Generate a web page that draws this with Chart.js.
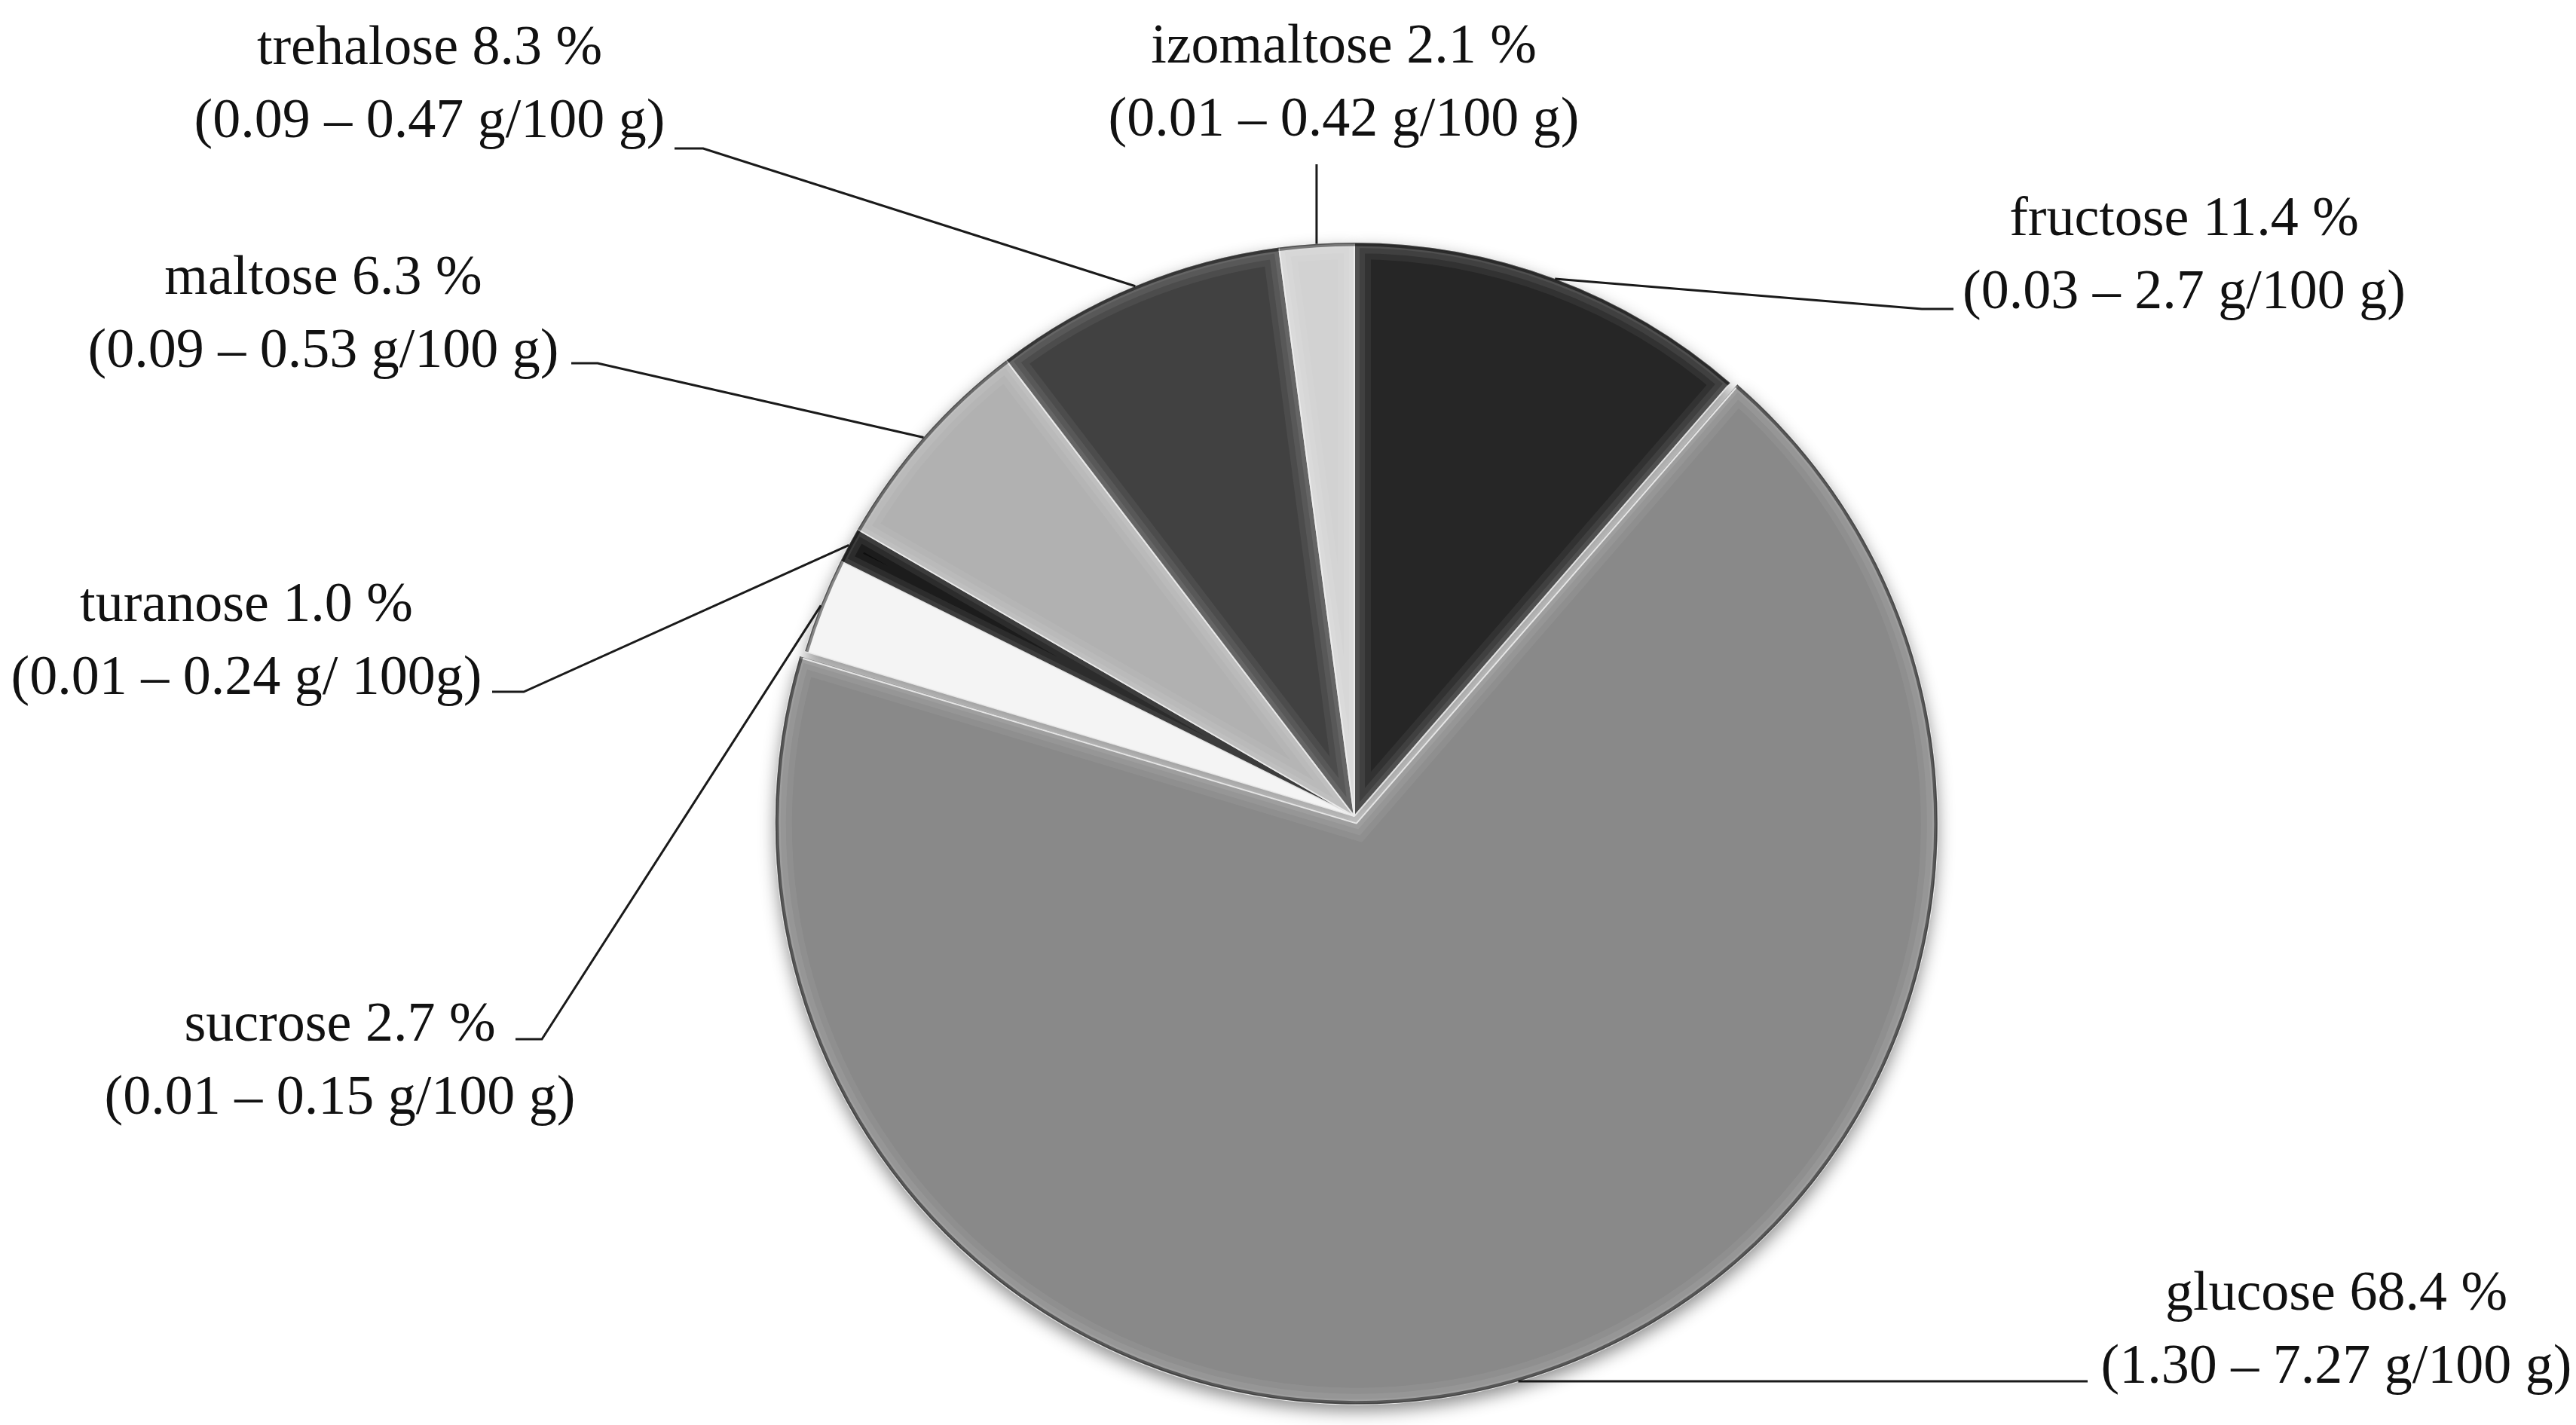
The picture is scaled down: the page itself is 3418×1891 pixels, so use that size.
<!DOCTYPE html>
<html>
<head>
<meta charset="utf-8">
<script src="https://cdn.jsdelivr.net/npm/chart.js@4.4.1/dist/chart.umd.min.js"></script>
<style>
  html, body { margin: 0; padding: 0; background: #ffffff; }
  #wrap { width: 3418px; height: 1891px; position: relative; }
</style>
</head>
<body>
<div id="wrap"><canvas id="c"></canvas></div>
<script>
// ---- data (clockwise from 12 o'clock) ----
const sugars = ['fructose', 'glucose', 'sucrose', 'turanose', 'maltose', 'trehalose', 'izomaltose'];
const shares = [11.4, 68.4, 2.7, 1.0, 6.3, 8.3, 2.1];
const ranges = [
  '(0.03 – 2.7 g/100 g)',
  '(1.30 – 7.27 g/100 g)',
  '(0.01 – 0.15 g/100 g)',
  '(0.01 – 0.24 g/ 100g)',
  '(0.09 – 0.53 g/100 g)',
  '(0.09 – 0.47 g/100 g)',
  '(0.01 – 0.42 g/100 g)'
];

// ---- styles / layout (kept separate from data) ----
const sliceColors = ['#262626', '#898989', '#f4f4f4', '#0e0e0e', '#b1b1b1', '#414141', '#d2d2d2'];
const sliceOffsets = [0, 40, 0, 0, 0, 0, 0];
// label block centre x, baseline of first line; elbow point and end point of leader line
const labelLayout = [
  { x: 2898, y: 312,  elbow: [2550, 410], end: [2592, 410] },
  { x: 3100, y: 1738, elbow: null,        end: [2770, 1833] },
  { x: 451,  y: 1381, elbow: [719, 1379], end: [684, 1379] },
  { x: 327,  y: 824,  elbow: [695, 918],  end: [653, 918] },
  { x: 429,  y: 390,  elbow: [793, 482],  end: [758, 482] },
  { x: 570,  y: 85,   elbow: [933, 197],  end: [895, 197] },
  { x: 1783, y: 83,   elbow: ['vertical', 218], end: null }
];
const lineGap = 97;
const labelFont = '74px "Liberation Serif", "DejaVu Serif", serif';

function arcGeom(el) {
  const p = el.getProps(['x', 'y', 'startAngle', 'endAngle', 'outerRadius', 'circumference'], true);
  const off = (el.options.offset || 0) / 4;
  const mid = (p.startAngle + p.endAngle) / 2;
  const fix = 1 - Math.sin(Math.min(Math.PI, p.circumference || (p.endAngle - p.startAngle)));
  return {
    cx: p.x + Math.cos(mid) * off,
    cy: p.y + Math.sin(mid) * off,
    r: p.outerRadius + off * fix,
    a0: p.startAngle, a1: p.endAngle, mid: mid
  };
}

function slicePath(ctx, g) {
  ctx.beginPath();
  ctx.moveTo(g.cx, g.cy);
  ctx.arc(g.cx, g.cy, g.r, g.a0, g.a1);
  ctx.closePath();
}

const pieShadow = {
  id: 'pieShadow',
  beforeDatasetsDraw(chart) {
    const ctx = chart.ctx;
    const meta = chart.getDatasetMeta(0);
    ctx.save();
    ctx.shadowColor = 'rgba(0,0,0,0.45)';
    ctx.shadowBlur = 22;
    ctx.shadowOffsetX = 0;
    ctx.shadowOffsetY = 9;
    meta.data.forEach(el => {
      const g = arcGeom(el);
      slicePath(ctx, g);
      ctx.fillStyle = '#888';
      ctx.fill();
    });
    ctx.restore();
  }
};

const bevel = {
  id: 'bevel',
  afterDatasetsDraw(chart) {
    const ctx = chart.ctx;
    const meta = chart.getDatasetMeta(0);
    meta.data.forEach((el, i) => {
      const g = arcGeom(el);
      ctx.save();
      slicePath(ctx, g);
      ctx.clip();
      // soft inner highlight band along all edges
      ctx.lineJoin = 'miter';
      [[44, 0.06], [28, 0.07], [14, 0.08]].forEach(([w, a]) => {
        slicePath(ctx, g);
        ctx.lineWidth = w;
        ctx.strokeStyle = 'rgba(255,255,255,' + a + ')';
        ctx.stroke();
      });
      // dark rim along outer edge
      ctx.beginPath();
      ctx.arc(g.cx, g.cy, g.r, g.a0, g.a1);
      ctx.lineWidth = 9;
      ctx.strokeStyle = 'rgba(0,0,0,0.45)';
      ctx.stroke();
      ctx.beginPath();
      ctx.arc(g.cx, g.cy, g.r, g.a0, g.a1);
      ctx.lineWidth = 3;
      ctx.strokeStyle = 'rgba(0,0,0,0.35)';
      ctx.stroke();
      ctx.restore();
    });
  }
};

const leaderLabels = {
  id: 'leaderLabels',
  afterDraw(chart) {
    const ctx = chart.ctx;
    const meta = chart.getDatasetMeta(0);
    ctx.save();
    meta.data.forEach((el, i) => {
      const g = arcGeom(el);
      const sx = g.cx + Math.cos(g.mid) * g.r;
      const sy = g.cy + Math.sin(g.mid) * g.r;
      const L = labelLayout[i];
      ctx.beginPath();
      ctx.moveTo(sx, sy);
      if (L.elbow && L.elbow[0] === 'vertical') {
        ctx.lineTo(sx, L.elbow[1]);
      } else {
        if (L.elbow) ctx.lineTo(L.elbow[0], L.elbow[1]);
        if (L.end) ctx.lineTo(L.end[0], L.end[1]);
      }
      ctx.lineWidth = 3;
      ctx.strokeStyle = '#1a1a1a';
      ctx.stroke();

      ctx.fillStyle = '#111';
      ctx.font = labelFont;
      ctx.textAlign = 'center';
      ctx.textBaseline = 'alphabetic';
      ctx.fillText(sugars[i] + ' ' + shares[i].toFixed(1) + ' %', L.x, L.y);
      ctx.fillText(ranges[i], L.x, L.y + lineGap);
    });
    ctx.restore();
  }
};

new Chart(document.getElementById('c'), {
  type: 'pie',
  data: {
    labels: sugars,
    datasets: [{
      data: shares,
      backgroundColor: sliceColors,
      borderColor: 'rgba(235,235,235,0.9)',
      borderWidth: 2,
      offset: sliceOffsets
    }]
  },
  options: {
    responsive: true,
    maintainAspectRatio: false,
    animation: false,
    radius: 761,
    rotation: 0,
    layout: { padding: { left: 176, right: 0, top: 275, bottom: 0 } },
    plugins: {
      legend: { display: false },
      tooltip: { enabled: false }
    },
    events: []
  },
  plugins: [pieShadow, bevel, leaderLabels]
});
</script>
</body>
</html>
